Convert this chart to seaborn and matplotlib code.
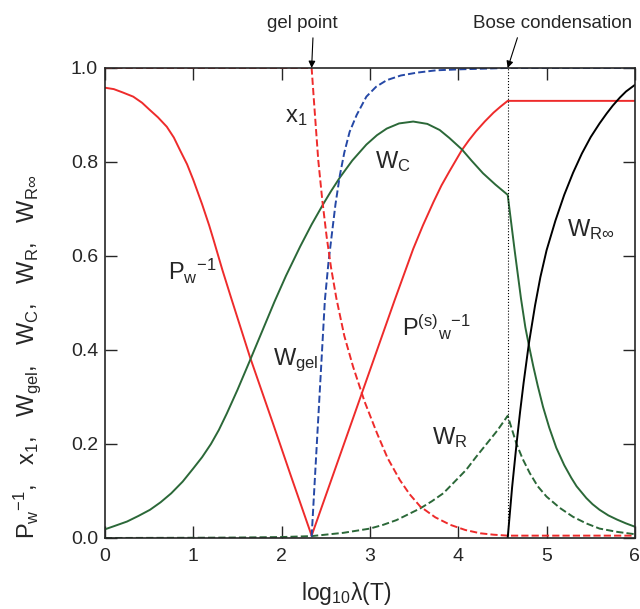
import numpy as np
import pandas as pd
import matplotlib
matplotlib.use("Agg")
import matplotlib.pyplot as plt
import seaborn as sns

# Critical points on the log10(lambda) axis
gel_x = 2.34
bose_x = 4.56

# P_w^-1 (red solid, pre-gel)
pw_x = [0.0, 0.1, 0.2, 0.32, 0.42, 0.5, 0.6, 0.7, 0.78, 0.85, 0.93, 1.0, 1.1, 1.18, 1.23, 1.33,
        1.43, 1.64, 1.9, 2.1, 2.34]
pw_y = [0.958, 0.955, 0.948, 0.939, 0.926, 0.912, 0.895, 0.875, 0.852, 0.825, 0.795, 0.762, 0.71, 0.665, 0.634, 0.57,
        0.51, 0.386, 0.245, 0.135, 0.005]

# P(s)_w^-1 (red solid, post-gel)
ps_x = [2.34, 2.8, 3.28, 3.49, 3.6, 3.72, 3.81, 3.9, 4.04, 4.12, 4.2, 4.3, 4.4, 4.48, 4.56, 6.0]
ps_y = [0.005, 0.25, 0.506, 0.615, 0.665, 0.715, 0.75, 0.78, 0.825, 0.846, 0.865, 0.886, 0.905, 0.918, 0.93, 0.93]

# x_1 (red dashed)
x1_x = [0.0, 2.34, 2.37, 2.415, 2.46, 2.51, 2.56, 2.62, 2.71, 2.81, 2.94, 3.08, 3.2, 3.34, 3.45, 3.57,
        3.74, 3.91, 4.08, 4.25, 4.4, 4.56, 6.0]
x1_y = [1.0, 1.0, 0.92, 0.804, 0.72, 0.641, 0.575, 0.51, 0.43, 0.364, 0.29, 0.223, 0.17, 0.123, 0.093, 0.067,
        0.044, 0.028, 0.017, 0.01, 0.007, 0.005, 0.005]

# W_gel (blue dashed)
wgel_x = [2.34, 2.49, 2.53, 2.57, 2.61, 2.66, 2.71, 2.77, 2.85, 2.96, 3.07, 3.19, 3.35, 3.53, 3.75, 4.0, 4.56, 6.0]
wgel_y = [0.003, 0.506, 0.585, 0.648, 0.71, 0.772, 0.82, 0.864, 0.9, 0.939, 0.96, 0.974, 0.984, 0.99, 0.995, 0.997, 1.0, 1.0]

# W_C (green solid)
wc_x = [0.0, 0.1, 0.25, 0.38, 0.51, 0.63, 0.75, 0.88, 1.0, 1.1, 1.2, 1.29, 1.38, 1.5, 1.64, 1.78, 1.92,
        2.05, 2.21, 2.34, 2.47, 2.56, 2.66, 2.8, 2.96, 3.08, 3.19, 3.33, 3.49, 3.65, 3.79, 3.9, 4.04,
        4.15, 4.28, 4.42, 4.56, 4.64, 4.71, 4.76, 4.80, 4.85, 4.90, 4.96, 5.03, 5.11, 5.2, 5.28, 5.34,
        5.45, 5.52, 5.60, 5.7, 5.8, 5.9, 6.0]
wc_y = [0.0185, 0.025, 0.035, 0.047, 0.06, 0.076, 0.095, 0.12, 0.148, 0.172, 0.2, 0.23, 0.265, 0.315, 0.377, 0.44, 0.503,
        0.558, 0.62, 0.667, 0.71, 0.738, 0.767, 0.803, 0.837, 0.857, 0.871, 0.882, 0.886, 0.881, 0.868, 0.851, 0.827,
        0.803, 0.776, 0.752, 0.73, 0.61, 0.51, 0.448, 0.41, 0.365, 0.324, 0.279, 0.235, 0.192, 0.155, 0.128, 0.11,
        0.085, 0.072, 0.06, 0.048, 0.039, 0.031, 0.024]

# W_R (green dashed)
wr_x = [0.0, 1.0, 1.5, 2.0, 2.34, 2.7, 3.0, 3.15, 3.30, 3.43, 3.57, 3.7, 3.83, 3.95, 4.09, 4.2, 4.32, 4.44, 4.56,
        4.66, 4.73, 4.81, 4.9, 5.0, 5.15, 5.30, 5.45, 5.60, 5.8, 6.0]
wr_y = [0.0, 0.0005, 0.001, 0.002, 0.004, 0.011, 0.02, 0.028, 0.038, 0.05, 0.063, 0.078, 0.095, 0.118, 0.145, 0.172, 0.2, 0.228, 0.26,
        0.2, 0.168, 0.138, 0.11, 0.088, 0.064, 0.045, 0.031, 0.02, 0.013, 0.008]

# W_R-infinity (black solid)
wrinf_x = [4.56, 4.61, 4.66, 4.70, 4.74, 4.80, 4.87, 4.93, 5.0, 5.1, 5.2, 5.3, 5.4, 5.5, 5.6, 5.68, 5.75, 5.83, 5.9, 6.0]
wrinf_y = [0.0, 0.108, 0.2, 0.268, 0.33, 0.414, 0.495, 0.555, 0.612, 0.675, 0.73, 0.777, 0.818, 0.853, 0.882, 0.903, 0.92, 0.937, 0.95, 0.964]

red = "#ee2b2b"
green = "#2b6838"
blue = "#2548a6"

sns.set_theme(style="ticks")
plt.rcParams["font.family"] = ["Liberation Sans", "DejaVu Sans"]
plt.rcParams["mathtext.fontset"] = "custom"
plt.rcParams["mathtext.rm"] = "Liberation Sans"
plt.rcParams["mathtext.it"] = "Liberation Sans:italic"
plt.rcParams["mathtext.bf"] = "Liberation Sans:bold"
plt.rcParams["mathtext.default"] = "rm"

fig = plt.figure(figsize=(6.4, 6.09), dpi=100)
ax = fig.add_axes([0.164, 0.1166, 0.828, 0.7718])

lw = 1.4
sns.lineplot(x=pw_x, y=pw_y, ax=ax, color=red, lw=lw, estimator=None, sort=False)
sns.lineplot(x=ps_x, y=ps_y, ax=ax, color=red, lw=lw, estimator=None, sort=False)
sns.lineplot(x=wr_x, y=wr_y, ax=ax, color=green, lw=lw, linestyle="--", estimator=None, sort=False)
sns.lineplot(x=wc_x, y=wc_y, ax=ax, color=green, lw=lw, estimator=None, sort=False)
sns.lineplot(x=wgel_x, y=wgel_y, ax=ax, color=blue, lw=lw, linestyle="--", estimator=None, sort=False)
sns.lineplot(x=x1_x, y=x1_y, ax=ax, color=red, lw=lw, linestyle="--", estimator=None, sort=False)
sns.lineplot(x=wrinf_x, y=wrinf_y, ax=ax, color="black", lw=lw, estimator=None, sort=False)

ax.axvline(bose_x, color="black", lw=0.8, linestyle=":")

ax.set_xlim(0, 6)
ax.set_ylim(0, 1)
ax.set_xticks(range(0, 7))
ax.set_yticks([0.0, 0.2, 0.4, 0.6, 0.8, 1.0])
ax.set_yticklabels(["0.0", "0.2", "0.4", "0.6", "0.8", "1.0"])
ax.tick_params(direction="in", length=8.5, width=1, labelsize=14, top=True, right=True, pad=5)
ax.tick_params(axis="x", pad=7)
for s in ax.spines.values():
    s.set_linewidth(1.2)
    s.set_visible(True)

ax.set_xlabel(r"log$_{10}$λ(T)", fontsize=16.5)
ax.xaxis.set_label_coords(0.455, -0.09)
ax.set_ylabel(r"P$_{w}$$^{-1}$,   x$_1$,   W$_{gel}$,   W$_{C}$,   W$_{R}$,   W$_{R∞}$", fontsize=17)
ax.yaxis.set_label_coords(-0.117, 0.385)

lab = dict(fontsize=17, ha="left", va="baseline")
ax.text(2.04, 0.884, r"x$_1$", **lab)
ax.text(3.06, 0.787, r"W$_C$", **lab)
ax.text(0.713, 0.549, r"P$_w$$^{-1}$", **lab)
ax.text(1.90, 0.367, r"W$_{gel}$", **lab)
ax.text(3.36, 0.43, r"P$^{(s)}$$_w$$^{-1}$", **lab)
ax.text(3.70, 0.199, r"W$_R$", **lab)
ax.text(5.227, 0.643, r"W$_{R∞}$", **lab)

arrow = dict(arrowstyle="-|>", color="black", lw=0.8, shrinkA=2, shrinkB=0, mutation_scale=10)
ax.annotate("gel point", xy=(gel_x, 1.0), xytext=(2.23, 1.095), ha="center", va="center",
            fontsize=13.5, annotation_clip=False, arrowprops=dict(arrow, relpos=(0.66, 0.0)))
ax.annotate("Bose condensation", xy=(bose_x, 1.0), xytext=(5.07, 1.095), ha="center", va="center",
            fontsize=13.5, annotation_clip=False, arrowprops=dict(arrow, relpos=(0.29, 0.0)))

fig.savefig("out.png", dpi=100)
